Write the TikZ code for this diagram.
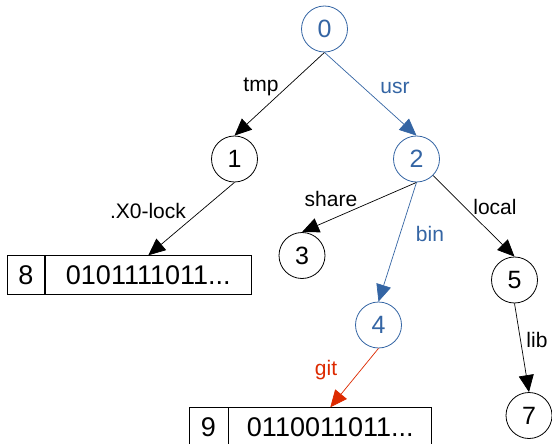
\documentclass[tikz,border=0pt]{standalone}
\usepackage{fontspec}
\setmainfont{Liberation Sans}
\usetikzlibrary{arrows.meta}
\definecolor{treeblue}{HTML}{3465A4}
\definecolor{treered}{HTML}{DD2A00}
\tikzset{
  vertex/.style={circle, draw, line width=0.8pt, minimum size=46pt, inner sep=0pt, font=\fontsize{25}{25}\selectfont},
  keycell/.style={rectangle, draw, line width=0.8pt, minimum height=38.6pt, inner sep=0pt, font=\fontsize{27}{27}\selectfont},
  edge/.style={line width=0.7pt, -{Triangle[length=17pt, width=15pt]}},
  lbl/.style={font=\fontsize{21}{21}\selectfont, inner sep=0pt},
}
\begin{document}
\begin{tikzpicture}[x=1pt, y=-1pt]
  \useasboundingbox (0,0) rectangle (552,444);
  \fill[white] (0,0) rectangle (552,444);

  % directory vertices
  \node[vertex, treeblue] (n0) at (324.5,29) {0};
  \node[vertex] (n1) at (234.5,159) {1};
  \node[vertex, treeblue] (n2) at (416.5,159) {2};
  \node[vertex] (n3) at (302,255.5) {3};
  \node[vertex, treeblue] (n4) at (378.5,325) {4};
  \node[vertex] (n5) at (514.5,280) {5};
  \node[vertex] (n7) at (529,415.5) {7};

  % file records: key cell + value cell
  \node[keycell, minimum width=37.5pt] (k8) at (26,275) {8};
  \node[keycell, minimum width=205.5pt, anchor=west] (v8) at (k8.east) {0101111011...};
  \node[keycell, minimum width=39pt] (k9) at (208.5,427) {9};
  \node[keycell, minimum width=203pt, anchor=west] (v9) at (k9.east) {0110011011...};

  % edges
  \draw[edge] (n0.south) -- (n1.north);
  \draw[edge, treeblue] (n0.south) -- (n2.north);
  \draw[edge] (n1.south) -- (v8.north);
  \draw[edge] (n2.south) -- (n3.north);
  \draw[edge, treeblue] (n2.south) -- (n4.north);
  \draw[edge] (n2.-45) -- (n5.north);
  \draw[edge, treered] (n4.south) -- (v9.north);
  \draw[edge] (n5.south) -- (n7.north);

  % edge labels
  \node[lbl] (ltmp) at (261,87) {tmp};
  \node[lbl, treeblue] (lusr) at (395,88) {usr};
  \node[lbl] (llock) at (148,211) {.X0-lock};
  \node[lbl] (lshare) at (331,199) {share};
  \node[lbl, treeblue] (lbin) at (430,234) {bin};
  \node[lbl] (llocal) at (495,207) {local};
  \node[lbl, treered] (lgit) at (326,370) {git};
  \node[lbl] (llib) at (537,340) {lib};
\end{tikzpicture}
\end{document}
